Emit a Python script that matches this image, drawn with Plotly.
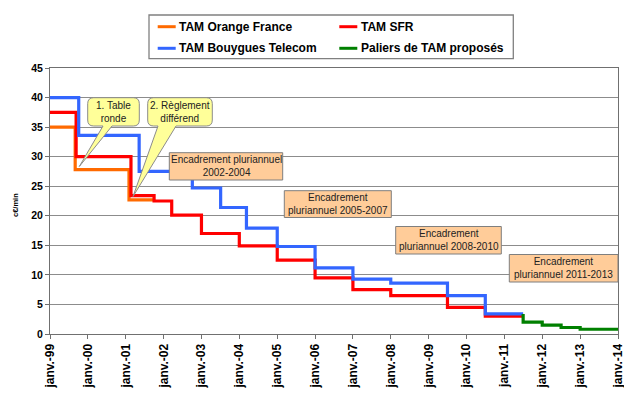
import plotly.graph_objects as go

# ---------------- data ----------------
orange_dates = ["1999-01-01", "1999-09-01", "2001-02-01", "2001-10-01"]
orange_vals = [35.0, 27.8, 22.7, 22.7]

sfr_dates = ["1999-01-01", "1999-09-10", "2001-02-20", "2001-10-01", "2002-03-20",
             "2003-01-01", "2004-01-01", "2005-01-01", "2006-01-01", "2007-01-01",
             "2008-01-01", "2009-07-01", "2010-07-01", "2011-07-01"]
sfr_vals = [37.5, 30.0, 23.4, 22.5, 20.1, 17.0, 14.9, 12.5, 9.5, 7.5, 6.5, 4.5, 3.0, 3.0]

byt_dates = ["1999-01-01", "1999-10-05", "2001-05-10", "2002-10-05", "2003-07-05",
             "2004-03-10", "2005-01-01", "2006-01-01", "2007-01-01", "2008-01-01",
             "2009-07-01", "2010-07-01", "2011-07-01"]
byt_vals = [40.0, 33.6, 27.5, 24.7, 21.4, 17.9, 14.8, 11.2, 9.3, 8.6, 6.5, 3.4, 3.4]

green_dates = ["2011-07-01", "2011-07-01", "2012-01-01", "2012-07-01", "2013-01-01", "2014-01-01"]
green_vals = [3.4, 2.0, 1.5, 1.1, 0.8, 0.8]

years = list(range(1999, 2015))
tick_vals = [f"{y}-01-01" for y in years]
tick_text = [f"janv.-{y % 100:02d}" for y in years]

series_names = ["TAM Orange France", "TAM SFR", "TAM Bouygues Telecom", "Paliers de TAM proposés"]
series_colors = ["#FF6A00", "#FF0000", "#3366FF", "#008000"]

callouts = ["1. Table<br>ronde", "2. Règlement<br>différend"]
frames = ["Encadrement pluriannuel<br>2002-2004", "Encadrement<br>pluriannuel 2005-2007",
          "Encadrement<br>pluriannuel 2008-2010", "Encadrement<br>pluriannuel 2011-2013"]

FONT = "Liberation Sans, Arial, sans-serif"
OFF = 8  # page body margin offset
W, H = 632 - OFF, 397 - OFF
PLOT_X0, PLOT_X1, PLOT_Y0, PLOT_Y1 = 50, 618, 68, 334  # page pixel coords
L, T = PLOT_X0 - OFF, PLOT_Y0 - OFF
R, B = W - (PLOT_X1 - OFF), H - (PLOT_Y1 - OFF)
PW, PH = PLOT_X1 - PLOT_X0, PLOT_Y1 - PLOT_Y0


def px(x):
    return (x - PLOT_X0) / PW


def py(y):
    return (PLOT_Y1 - y) / PH


fig = go.Figure()
for d, v, n, c in zip([orange_dates, sfr_dates, byt_dates, green_dates],
                      [orange_vals, sfr_vals, byt_vals, green_vals],
                      series_names, series_colors):
    fig.add_trace(go.Scatter(x=d, y=v, mode="lines", name=n,
                             line=dict(color=c, width=3.2, shape="hv"),
                             showlegend=False, hoverinfo="skip"))

shapes = []
annotations = []


def callout_path(x0, y0, x1, y1, bl, br, tx, ty, r=6):
    p = f"M {px(x0 + r)},{py(y0)} L {px(x1 - r)},{py(y0)} "
    p += f"Q {px(x1)},{py(y0)} {px(x1)},{py(y0 + r)} "
    p += f"L {px(x1)},{py(y1 - r)} Q {px(x1)},{py(y1)} {px(x1 - r)},{py(y1)} "
    p += f"L {px(br)},{py(y1)} L {px(tx)},{py(ty)} L {px(bl)},{py(y1)} "
    p += f"L {px(x0 + r)},{py(y1)} Q {px(x0)},{py(y1)} {px(x0)},{py(y1 - r)} "
    p += f"L {px(x0)},{py(y0 + r)} Q {px(x0)},{py(y0)} {px(x0 + r)},{py(y0)} Z"
    return p


callout_geo = [
    (87.7, 97.7, 139.3, 126, 103, 112, 79.3, 166.5),
    (147.7, 97.7, 212.3, 126, 158, 176, 133, 196.5),
]
for txt, g in zip(callouts, callout_geo):
    shapes.append(dict(type="path", xref="paper", yref="paper",
                       path=callout_path(*g), fillcolor="#FFFF99",
                       line=dict(color="#8C8C8C", width=1), layer="above"))
    annotations.append(dict(x=px((g[0] + g[2]) / 2), y=py((g[1] + g[3]) / 2),
                            xref="paper", yref="paper", text=txt, showarrow=False,
                            font=dict(family=FONT, size=10, color="#222222"),
                            xanchor="center", yanchor="middle"))

frame_geo = [
    (169.3, 152.7, 282.7, 180.0),
    (284.3, 190.7, 391.3, 217.5),
    (395.7, 226.5, 501.3, 254.0),
    (509.3, 254.5, 618.0, 282.0),
]
for txt, g in zip(frames, frame_geo):
    shapes.append(dict(type="rect", xref="paper", yref="paper",
                       x0=px(g[0]), x1=px(g[2]), y0=py(g[1]), y1=py(g[3]),
                       fillcolor="#FFCC99", line=dict(color="#7F7F7F", width=1),
                       layer="above"))
    annotations.append(dict(x=px((g[0] + g[2]) / 2), y=py((g[1] + g[3]) / 2),
                            xref="paper", yref="paper", text=txt, showarrow=False,
                            font=dict(family=FONT, size=10, color="#222222"),
                            xanchor="center", yanchor="middle"))

# legend (drawn manually to match the 2x2 layout)
shapes.append(dict(type="rect", xref="paper", yref="paper",
                   x0=px(149), x1=px(513.3), y0=py(15), y1=py(58.7),
                   fillcolor="white", line=dict(color="#808080", width=1.3),
                   layer="above"))
leg_pos = [(157.7, 26.7), (339.3, 26.7), (157.7, 48.3), (339.3, 48.3)]
for n, c, (lx, ly) in zip(series_names, series_colors, leg_pos):
    shapes.append(dict(type="line", xref="paper", yref="paper",
                       x0=px(lx), x1=px(lx + 18), y0=py(ly), y1=py(ly),
                       line=dict(color=c, width=3), layer="above"))
    annotations.append(dict(x=px(lx + 19.5), y=py(ly), xref="paper", yref="paper",
                            text=n, showarrow=False, xanchor="left", yanchor="middle",
                            font=dict(family=FONT, size=12, color="black", weight="bold")))

# y-axis title
annotations.append(dict(x=px(15), y=py(205), xref="paper", yref="paper", text="c€/min",
                        textangle=-90, showarrow=False, xanchor="center", yanchor="middle",
                        font=dict(family=FONT, size=7.5, color="black", weight="bold")))

fig.update_layout(
    width=W, height=H,
    margin=dict(l=L, r=R, t=T, b=B, autoexpand=False),
    paper_bgcolor="white", plot_bgcolor="white",
    showlegend=False,
    shapes=shapes, annotations=annotations,
    xaxis=dict(type="date", range=["1999-01-01", "2014-01-01"],
               tickmode="array", tickvals=tick_vals, ticktext=tick_text,
               tickangle=-90, ticks="outside", ticklen=4, tickcolor="#707070",
               showgrid=False, zeroline=False,
               showline=True, linecolor="#707070", linewidth=1, mirror=True,
               tickfont=dict(family=FONT, size=12, color="black", weight="bold")),
    yaxis=dict(range=[0, 45], tickmode="linear", tick0=0, dtick=5,
               ticks="outside", ticklen=4, tickcolor="#707070",
               showgrid=True, gridcolor="#8C8C8C", gridwidth=1, zeroline=False,
               showline=True, linecolor="#707070", linewidth=1, mirror=True,
               tickfont=dict(family=FONT, size=10.5, color="black", weight="bold")),
)

fig.write_html("out.html")
